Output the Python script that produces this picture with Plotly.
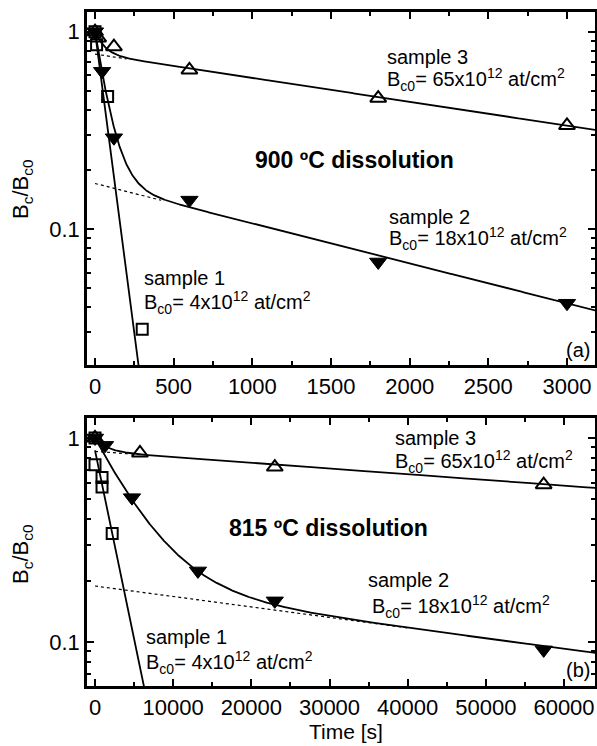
import numpy as np
import plotly.graph_objects as go

W, H = 597, 746
FONT = "Liberation Sans, Arial, Helvetica, sans-serif"

# ---------------- data: (a) 900 C ----------------
t1_a = [0, 10, 80, 300]
y1_a = [1.0, 0.86, 0.47, 0.031]
t2_a = [0, 45, 120, 600, 1800, 3000]
y2_a = [1.0, 0.63, 0.29, 0.14, 0.068, 0.042]
t3_a = [0, 20, 120, 600, 1800, 3000]
y3_a = [1.0, 0.93, 0.84, 0.64, 0.46, 0.335]

# ---------------- data: (b) 815 C ----------------
t1_b = [0, 0, 900, 900, 2200]
y1_b = [1.0, 0.74, 0.64, 0.575, 0.34]
t2_b = [0, 1280, 4730, 13170, 23000, 57400]
y2_b = [1.0, 0.92, 0.51, 0.223, 0.159, 0.0914]
t3_b = [0, 5750, 23000, 57400]
y3_b = [1.0, 0.844, 0.72, 0.59]

# fit parameters: (fast amplitude, fast tau, slow amplitude, slow tau)
fit1_a = (1.0, 71.0)
fit2_a = (0.83, 75.0, 0.17, 2145.0)
fit3_a = (0.23, 60.0, 0.77, 3590.0)
fit1_b = (0.87, 2350.0)
fit2_b = (0.81, 5100.0, 0.188, 84700.0)
fit3_b = (0.14, 1500.0, 0.86, 155000.0)

x_ticks_a = [0, 500, 1000, 1500, 2000, 2500, 3000]
x_ticks_b = [0, 10000, 20000, 30000, 40000, 50000, 60000]
y_ticks = [0.1, 1]
y_tick_text = ["0.1", "1"]


def single(p, t):
    return p[0] * np.exp(-t / p[1])


def double(p, t):
    return p[0] * np.exp(-t / p[1]) + p[2] * np.exp(-t / p[3])


fig = go.Figure()

line = dict(color="black", width=1.8)
dot = dict(color="black", width=1.2, dash="dot")
m_sq = dict(symbol="square-open", size=11, color="black", line=dict(width=2, color="black"))
m_tu = dict(symbol="triangle-up-open", size=14, color="black", line=dict(width=2, color="black"))
m_td = dict(symbol="triangle-down", size=15, color="black", line=dict(width=1, color="black"))


def add_panel(xa, ya, tmax, t1, y1, t2, y2, t3, y3, f1, f2, f3, dot2_end, dot3_end):
    tt = np.linspace(0, tmax, 1500)
    fig.add_trace(go.Scatter(x=tt, y=single(f1, tt), mode="lines", line=line, xaxis=xa, yaxis=ya))
    fig.add_trace(go.Scatter(x=tt, y=double(f2, tt), mode="lines", line=line, xaxis=xa, yaxis=ya))
    fig.add_trace(go.Scatter(x=tt, y=double(f3, tt), mode="lines", line=line, xaxis=xa, yaxis=ya))
    td2 = np.linspace(0, dot2_end, 50)
    fig.add_trace(go.Scatter(x=td2, y=f2[2] * np.exp(-td2 / f2[3]), mode="lines", line=dot, xaxis=xa, yaxis=ya))
    td3 = np.linspace(0, dot3_end, 50)
    fig.add_trace(go.Scatter(x=td3, y=f3[2] * np.exp(-td3 / f3[3]), mode="lines", line=dot, xaxis=xa, yaxis=ya))
    fig.add_trace(go.Scatter(x=t1, y=y1, mode="markers", marker=m_sq, xaxis=xa, yaxis=ya))
    fig.add_trace(go.Scatter(x=t2, y=y2, mode="markers", marker=m_td, xaxis=xa, yaxis=ya))
    fig.add_trace(go.Scatter(x=t3, y=y3, mode="markers", marker=m_tu, xaxis=xa, yaxis=ya))


add_panel("x", "y", 3300, t1_a, y1_a, t2_a, y2_a, t3_a, y3_a, fit1_a, fit2_a, fit3_a, 420, 200)
add_panel("x2", "y2", 66000, t1_b, y1_b, t2_b, y2_b, t3_b, y3_b, fit1_b, fit2_b, fit3_b, 40000, 6000)


def px(x, y):
    return x / W, 1 - y / H


L, R = 87, 595
top_a, bot_a = 12, 365
top_b, bot_b = 418, 686

minor_log = [k * 10 ** e for e in (-2, -1) for k in range(2, 10)]

TICKFONT = dict(family=FONT, size=22, color="black")
common_x = dict(showline=True, linewidth=2.5, linecolor="black", mirror="allticks",
                ticks="inside", ticklen=7, tickwidth=1.8, tickcolor="black",
                showgrid=False, zeroline=False, tickfont=TICKFONT)
common_y = dict(type="log", showline=True, linewidth=2.5, linecolor="black", mirror="allticks",
                ticks="inside", ticklen=7, tickwidth=1.8, tickcolor="black",
                showgrid=False, zeroline=False, tickvals=y_ticks, ticktext=y_tick_text,
                tickfont=TICKFONT,
                minor=dict(tickvals=minor_log, ticks="inside", ticklen=4, tickwidth=1.5,
                           tickcolor="black", showgrid=False))

fig.update_layout(
    width=W, height=H, margin=dict(l=0, r=0, t=0, b=0),
    paper_bgcolor="white", plot_bgcolor="white", showlegend=False,
    font=dict(family=FONT, color="black"),
    xaxis=dict(common_x, domain=[L / W, R / W], anchor="y", range=[-51, 3178],
               tickvals=x_ticks_a, ticktext=[str(v) for v in x_ticks_a],
               minor=dict(dtick=250, ticks="inside", ticklen=4, tickwidth=1.5,
                          tickcolor="black", showgrid=False)),
    yaxis=dict(common_y, domain=[1 - bot_a / H, 1 - top_a / H], anchor="x", range=[-1.69, 0.10]),
    xaxis2=dict(common_x, domain=[L / W, R / W], anchor="y2", range=[-1023, 63966],
                tickvals=x_ticks_b, ticktext=[str(v) for v in x_ticks_b],
                minor=dict(dtick=5000, ticks="inside", ticklen=4, tickwidth=1.5,
                           tickcolor="black", showgrid=False)),
    yaxis2=dict(common_y, domain=[1 - bot_b / H, 1 - top_b / H], anchor="x2", range=[-1.216, 0.098]),
)

ann = []


def text(x, y, s, size=20, bold=False, xanchor="left", angle=0):
    xx, yy = px(x, y)
    ann.append(dict(x=xx, y=yy, xref="paper", yref="paper", text=("<b>%s</b>" % s) if bold else s,
                    showarrow=False, xanchor=xanchor, yanchor="middle", textangle=angle,
                    font=dict(family=FONT, size=size, color="black")))


# panel (a)
text(385, 57, "sample 3")
text(385, 80, "B<sub>c0</sub>= 65x10<sup>12</sup> at/cm<sup>2</sup>")
text(355, 160, "900 ºC dissolution", size=23, bold=True, xanchor="center")
text(387, 217, "sample 2")
text(387, 238, "B<sub>c0</sub>= 18x10<sup>12</sup> at/cm<sup>2</sup>")
text(142, 278, "sample 1")
text(142, 302, "B<sub>c0</sub>= 4x10<sup>12</sup> at/cm<sup>2</sup>")
text(592, 350, "(a)", xanchor="right")
text(22, 190, "B<sub>c</sub>/B<sub>c0</sub>", size=22, angle=-90, xanchor="center")

# panel (b)
text(393, 438, "sample 3")
text(393, 461, "B<sub>c0</sub>= 65x10<sup>12</sup> at/cm<sup>2</sup>")
text(328, 528, "815 ºC dissolution", size=23, bold=True, xanchor="center")
text(366, 580, "sample 2")
text(370, 606, "B<sub>c0</sub>= 18x10<sup>12</sup> at/cm<sup>2</sup>")
text(144, 637, "sample 1")
text(144, 662, "B<sub>c0</sub>= 4x10<sup>12</sup> at/cm<sup>2</sup>")
text(592, 670, "(b)", xanchor="right")
text(22, 555, "B<sub>c</sub>/B<sub>c0</sub>", size=22, angle=-90, xanchor="center")
text(346, 731, "Time [s]", size=21, xanchor="center")

fig.update_layout(annotations=ann)
fig.write_html("out.html", config={"displayModeBar": False},
               post_script="document.body.style.margin='0';document.body.style.overflow='hidden';")
